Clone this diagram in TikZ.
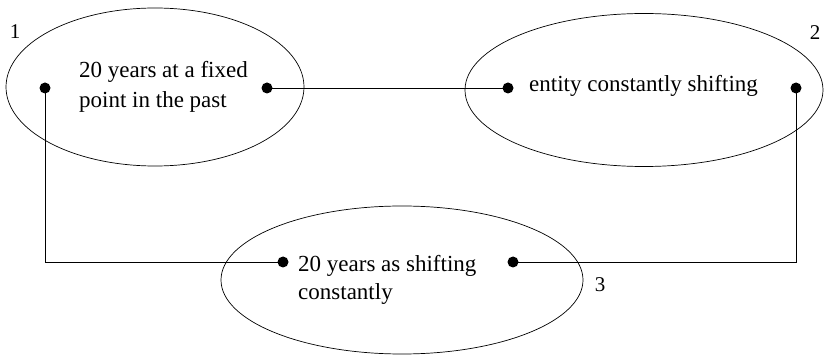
\documentclass[tikz,border=0pt]{standalone}
\usepackage{fontspec}
\setmainfont{Liberation Serif}
\usetikzlibrary{shapes.geometric}
\begin{document}
\begin{tikzpicture}[x=1pt,y=-1pt,
  oval/.style={draw,ellipse,line width=0.7pt,inner sep=0pt},
  dot/.style={circle,fill,inner sep=0pt,minimum size=11pt},
  txt/.style={font=\fontsize{23}{29}\selectfont,inner sep=0pt,anchor=base west},
  num/.style={font=\fontsize{21}{24}\selectfont,inner sep=0pt},
  link/.style={line width=0.8pt}]
\useasboundingbox (0,0) rectangle (827,355);
% the three ovals
\node[oval,minimum width=298pt,minimum height=158pt] (e1) at (155,87) {};
\node[oval,minimum width=358pt,minimum height=153pt] (e2) at (644,90) {};
\node[oval,minimum width=362pt,minimum height=148pt] (e3) at (402,280) {};
% labels inside the ovals
\node[txt] (t1a) at (79,77.5) {20 years at a fixed};
\node[txt] (t1b) at (79,107.5) {point in the past};
\node[txt] (t2) at (529,92) {entity constantly shifting};
\node[txt] (t3a) at (298,271.5) {20 years as shifting};
\node[txt] (t3b) at (298,299) {constantly};
% numbering
\node[num] (n1) at (15,32) {1};
\node[num] (n2) at (815,33) {2};
\node[num] (n3) at (600,285) {3};
% attachment points
\node[dot] (a1) at (45,88) {};
\node[dot] (b1) at (267,88) {};
\node[dot] (a2) at (508,88) {};
\node[dot] (b2) at (796,88) {};
\node[dot] (a3) at (283,262) {};
\node[dot] (b3) at (513,262) {};
% connectors
\draw[link] (b1.center) -- (a2.center);
\draw[link] (a1.center) |- (a3.center);
\draw[link] (b2.center) |- (b3.center);
\end{tikzpicture}
\end{document}
